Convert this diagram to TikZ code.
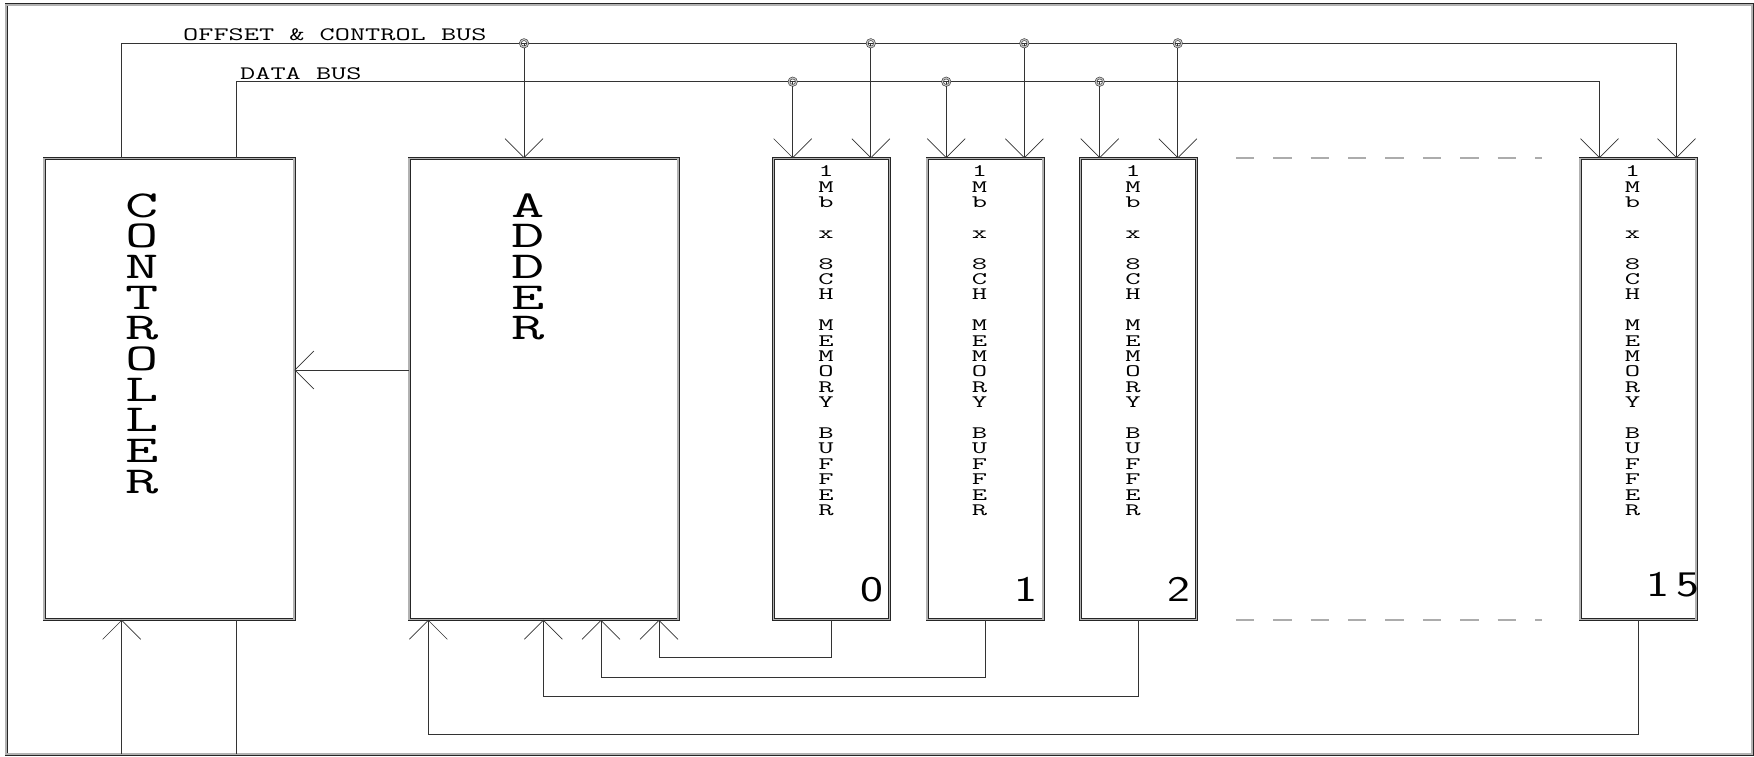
\documentclass[tikz,border=0pt]{standalone}
\usepackage{graphicx}
\usetikzlibrary{arrows.meta,positioning,calc}
\tikzset{
  dblline/.style={draw=black!85, double=gray!60, line width=0.6pt, double distance=1.8pt},
  blockbox/.style={rectangle, dblline, inner sep=0pt, minimum height=461pt},
  wire/.style={black!80, line width=0.7pt},
  busarrow/.style={wire, -{Straight Barb[length=19pt, width=38pt]}},
  busdot/.style={circle, draw=black!85, double=gray!50, line width=0.5pt,
    double distance=1.3pt, inner sep=0pt, minimum size=7.5pt},
  gapline/.style={gray!65, line width=1.6pt, dash pattern=on 18.3pt off 19.1pt},
  bigtext/.style={font=\ttfamily\fontsize{38}{30.7}\selectfont, inner sep=0pt, anchor=base},
  buftext/.style={font=\ttfamily\fontsize{17.5}{15.4}\selectfont, inner sep=0pt, anchor=base},
  buslabel/.style={font=\ttfamily\fontsize{19}{19}\selectfont, inner sep=0pt, anchor=base west},
  numlabel/.style={font=\sffamily\fontsize{36}{36}\selectfont, inner sep=0pt, anchor=base east}
}
\newcommand{\xwide}[2][1.7]{\scalebox{#1}[1]{#2}}
\newcommand{\vstack}[1]{\xwide{\vtop{\let\\\cr\halign{\hfil##\hfil\cr#1\crcr}}}}
\newcommand{\buftxt}{\vstack{1\\M\\b\\~\\x\\~\\8\\C\\H\\~\\M\\E\\M\\O\\R\\Y\\~\\B\\U\\F\\F\\E\\R}}

\begin{document}
\begin{tikzpicture}[x=1pt, y=-1pt]
  \useasboundingbox (0,0) rectangle (1754,757);
  % outer frame
  \node[rectangle, dblline, inner sep=0pt, minimum width=1746pt, minimum height=749pt] (frame) at (879,379.5) {};
  % blocks
  \node[blockbox, minimum width=250pt] (ctrl) at (169,389) {};
  \node[blockbox, minimum width=269pt] (adder) at (543.5,389) {};
  \foreach \n/\cx in {0/831.5, 1/985, 2/1138.5, 15/1638}
    \node[blockbox, minimum width=116pt] (m\n) at (\cx,389) {};
  % block texts
  \node[bigtext] (ctrltxt) at (142.5,217) {\vstack{C\\O\\N\\T\\R\\O\\L\\L\\E\\R}};
  \node[bigtext] (addtxt) at (528,217) {\vstack{A\\D\\D\\E\\R}};
  \foreach \n in {0,1,2,15}
    \node[buftext] (t\n) at ($(m\n.north)+(-5.5,18.5)$) {\buftxt};
  \foreach \n in {0,1,2}
    \node[numlabel] (n\n) at ($(m\n.south east)+(-6,-18)$) {\xwide[1.35]{\n}};
  \node[numlabel] (n15) at ($(m15.south east)+(3,-23.5)$) {\xwide[1.35]{1\kern5pt5}};
  % buses
  \node[buslabel] (oblab) at (183,41) {\xwide[1.55]{OFFSET \& CONTROL BUS}};
  \node[buslabel] (dblab) at (240,79.5) {\xwide[1.55]{DATA BUS}};
  \coordinate (obL) at (121.7,43.3);
  \coordinate (obR) at (1676.5,43.3);
  \coordinate (dbL) at (236.5,81.7);
  \coordinate (dbR) at (1599.5,81.7);
  \coordinate (oa) at (524,43.3);
  \coordinate (ac) at (0,370);
  \draw[busarrow] (obL |- ctrl.north) -- (obL) -- (obR) -- (obR |- m15.north);
  \draw[busarrow] (dbL |- ctrl.north) -- (dbL) -- (dbR) -- (dbR |- m15.north);
  \draw[busarrow] (oa) -- (oa |- adder.north);
  \node[busdot] (dota) at (oa) {};
  \foreach \n in {0,1,2} {
    \coordinate (dj\n) at ($(m\n.north west)+(19.5,0)$);
    \coordinate (oj\n) at ($(m\n.north east)+(-19,0)$);
    \draw[busarrow] (dj\n |- dbL) -- (dj\n);
    \draw[busarrow] (oj\n |- obL) -- (oj\n);
    \node[busdot] (dd\n) at (dj\n |- dbL) {};
    \node[busdot] (od\n) at (oj\n |- obL) {};
  }
  % adder to controller, controller I/O
  \draw[busarrow] (adder.west |- ac) -- (ctrl.east |- ac);
  \draw[busarrow] (obL |- frame.south) -- (obL |- ctrl.south);
  \draw[wire] (dbL |- ctrl.south) -- (dbL |- frame.south);
  % buffer returns to adder
  \foreach \n/\ax/\ry in {0/659/657.7, 1/601/677.3, 2/543.3/696.5, 15/428.3/734.5} {
    \coordinate (r\n) at (\ax,\ry);
    \draw[busarrow] (m\n.south) |- (r\n) -- (r\n |- adder.south);
  }
  % gap between buffer 2 and 15
  \draw[gapline] ($(m2.north east)+(39,0)$) -- ($(m15.north west)+(-38,0)$);
  \draw[gapline] ($(m2.south east)+(39,0)$) -- ($(m15.south west)+(-38,0)$);
\end{tikzpicture}
\end{document}
